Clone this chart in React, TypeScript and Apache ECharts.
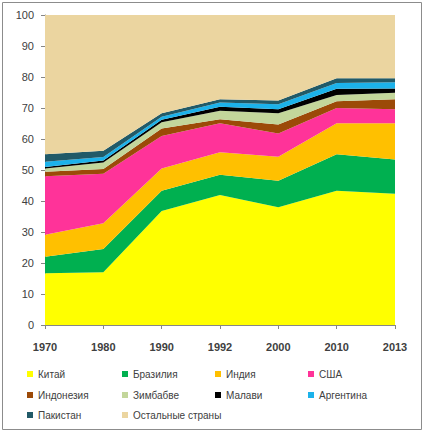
import React, { useEffect, useRef } from "react";
import * as echarts from "echarts";

const years = ["1970", "1980", "1990", "1992", "2000", "2010", "2013"];
const yTicks = [0, 10, 20, 30, 40, 50, 60, 70, 80, 90, 100];

const china = [16.7, 17.0, 36.8, 41.9, 38.0, 43.3, 42.3];
const brazil = [5.3, 7.5, 6.5, 6.6, 8.5, 11.8, 11.1];
const india = [7.1, 8.3, 7.2, 7.2, 7.8, 10.0, 11.7];
const usa = [18.9, 16.0, 10.5, 9.4, 7.5, 4.9, 4.5];
const indonesia = [1.4, 1.5, 2.4, 1.3, 2.9, 2.2, 3.2];
const zimbabwe = [1.1, 2.1, 2.0, 2.7, 3.6, 2.0, 2.1];
const malawi = [0.5, 0.7, 0.8, 1.3, 1.3, 2.0, 1.4];
const argentina = [1.7, 1.1, 1.0, 1.4, 1.6, 1.9, 2.0];
const pakistan = [2.4, 2.0, 1.1, 1.0, 1.2, 1.5, 1.3];
const others = [44.9, 43.8, 31.7, 27.2, 27.6, 20.4, 20.4];

const seriesNames = [
  "Китай",
  "Бразилия",
  "Индия",
  "США",
  "Индонезия",
  "Зимбабве",
  "Малави",
  "Аргентина",
  "Пакистан",
  "Остальные страны",
];
const seriesData = [china, brazil, india, usa, indonesia, zimbabwe, malawi, argentina, pakistan, others];
const seriesColors = [
  "#FFFF00",
  "#00B050",
  "#FFC000",
  "#FF3399",
  "#9C4A08",
  "#C3D69B",
  "#000000",
  "#1CB2EA",
  "#215A68",
  "#EBD5A0",
];

export default function App() {
  const ref = useRef<HTMLDivElement>(null);
  useEffect(() => {
    if (!ref.current) return;
    const chart = echarts.init(ref.current, null, { renderer: "svg" });
    const colX = [27, 122, 215, 308];
    const rowY = [369, 390, 410];
    const legends = seriesNames.map((name, i) => ({
      show: true,
      data: [name],
      left: colX[i % 4],
      top: rowY[Math.floor(i / 4)],
      padding: 0,
      itemWidth: 6,
      itemHeight: 6,
      icon: "rect",
      selectedMode: false,
      textStyle: { fontSize: 10, color: "#404040", fontFamily: "Liberation Sans, Arial, sans-serif" },
    }));
    const option: any = {
      animation: false,
      backgroundColor: "#ffffff",
      grid: { left: 45, right: 29, top: 15, bottom: 108 },
      legend: legends,
      xAxis: {
        type: "category",
        data: years,
        boundaryGap: false,
        axisLine: { show: true, lineStyle: { color: "#868686", width: 1 } },
        axisTick: { show: true, length: 4, alignWithLabel: true, lineStyle: { color: "#868686" } },
        axisLabel: {
          margin: 16,
          fontSize: 11,
          fontWeight: "bold",
          color: "#404040",
          fontFamily: "Liberation Sans, Arial, sans-serif",
        },
        splitLine: { show: false },
      },
      yAxis: {
        type: "value",
        min: yTicks[0],
        max: yTicks[yTicks.length - 1],
        interval: 10,
        axisLine: { show: true, lineStyle: { color: "#868686", width: 1 } },
        axisTick: { show: true, length: 4, lineStyle: { color: "#868686" } },
        axisLabel: {
          margin: 11,
          fontSize: 11,
          color: "#404040",
          fontFamily: "Liberation Sans, Arial, sans-serif",
        },
        splitLine: { show: false },
      },
      series: seriesNames.map((name, i) => ({
        name,
        type: "line",
        stack: "total",
        data: seriesData[i],
        symbol: "none",
        lineStyle: { width: 0 },
        areaStyle: { color: seriesColors[i], opacity: 1 },
        itemStyle: { color: seriesColors[i] },
        z: 2,
      })),
      graphic: [
        {
          type: "rect",
          shape: { x: 2.5, y: 2.5, width: 419, height: 427 },
          style: { fill: "none", stroke: "#8c8c8c", lineWidth: 1 },
          silent: true,
        },
      ],
    };
    chart.setOption(option);
    return () => chart.dispose();
  }, []);
  return (
    <div
      ref={ref}
      style={{ position: "fixed", left: 0, top: 0, width: 424, height: 433 }}
    />
  );
}
